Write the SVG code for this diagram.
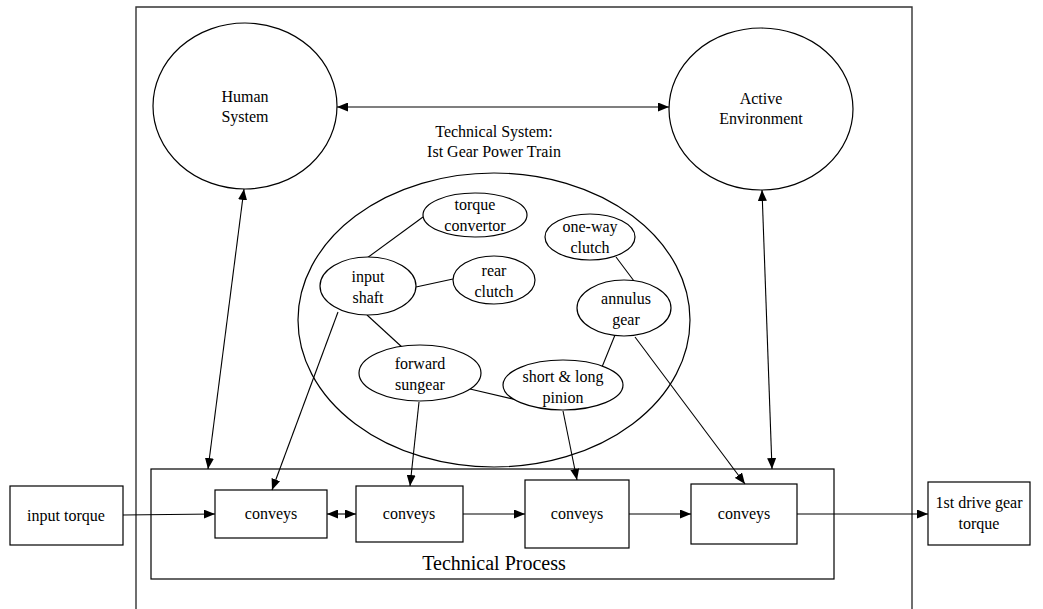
<svg xmlns="http://www.w3.org/2000/svg" width="1043" height="609" viewBox="0 0 1043 609" font-family="'Liberation Serif', 'Times New Roman', Times, serif">
  <style>
    .shape { fill: #fff; stroke: #000; stroke-width: 1.2; }
    .frame { fill: none; stroke: #333; stroke-width: 1.4; }
    .link { fill: none; stroke: #000; stroke-width: 1.1; }
    .arrow { fill: none; stroke: #000; stroke-width: 1.1; marker-end: url(#head); }
    .both { fill: none; stroke: #000; stroke-width: 1.1; marker-start: url(#head); marker-end: url(#head); }
    text { font-family: 'Liberation Serif', 'Times New Roman', Times, serif; font-size: 16px; fill: #000; text-anchor: middle; }
    .big { font-size: 20px; }
  </style>
  <defs>
    <marker id="head" markerUnits="userSpaceOnUse" markerWidth="11" markerHeight="9" refX="11" refY="4.5" orient="auto-start-reverse">
      <path d="M0,0 L11,4.5 L0,9 z" fill="#000"/>
    </marker>
  </defs>

  <!-- outer boundary, open at the bottom -->
  <path class="frame" d="M136,609 L136,7 L912,7 L912,609"/>

  <!-- environment -->
  <g id="human-system">
    <ellipse class="shape" cx="245" cy="106" rx="92" ry="83"/>
    <text x="245" y="102">Human</text>
    <text x="245" y="122">System</text>
  </g>
  <g id="active-environment">
    <ellipse class="shape" cx="761" cy="109" rx="92" ry="81"/>
    <text x="761" y="104">Active</text>
    <text x="761" y="124">Environment</text>
  </g>

  <!-- technical system -->
  <g id="technical-system">
    <text x="494" y="137">Technical System:</text>
    <text x="494" y="157">Ist Gear Power Train</text>
    <ellipse class="shape" cx="494" cy="320" rx="196" ry="147"/>
  </g>

  <!-- links between the parts of the power train -->
  <g id="part-links">
    <line class="link" x1="367" y1="258" x2="423" y2="217"/>
    <line class="link" x1="416" y1="287" x2="453" y2="279"/>
    <line class="link" x1="367" y1="315" x2="403" y2="348"/>
    <line class="link" x1="616" y1="257" x2="634" y2="281"/>
    <line class="link" x1="615" y1="335" x2="602" y2="367"/>
    <line class="link" x1="470" y1="389" x2="517" y2="400"/>
  </g>

  <g id="torque-convertor">
    <ellipse class="shape" cx="475" cy="215" rx="52" ry="22"/>
    <text x="475" y="210">torque</text>
    <text x="475" y="231">convertor</text>
  </g>
  <g id="one-way-clutch">
    <ellipse class="shape" cx="590" cy="237" rx="45" ry="23"/>
    <text x="590" y="232">one-way</text>
    <text x="590" y="253">clutch</text>
  </g>
  <g id="input-shaft">
    <ellipse class="shape" cx="368" cy="286" rx="48" ry="29"/>
    <text x="368" y="282">input</text>
    <text x="368" y="303">shaft</text>
  </g>
  <g id="rear-clutch">
    <ellipse class="shape" cx="494" cy="280" rx="41" ry="24"/>
    <text x="494" y="276">rear</text>
    <text x="494" y="297">clutch</text>
  </g>
  <g id="annulus-gear">
    <ellipse class="shape" cx="624" cy="308" rx="47" ry="28"/>
    <text x="626" y="304">annulus</text>
    <text x="626" y="325">gear</text>
  </g>
  <g id="forward-sungear">
    <ellipse class="shape" cx="420" cy="373" rx="61" ry="28"/>
    <text x="420" y="369">forward</text>
    <text x="420" y="390">sungear</text>
  </g>
  <g id="short-long-pinion">
    <ellipse class="shape" cx="563" cy="385" rx="60" ry="25"/>
    <text x="563" y="382">short &amp; long</text>
    <text x="563" y="403">pinion</text>
  </g>

  <!-- technical process -->
  <g id="technical-process">
    <rect class="shape" x="151" y="469" width="683" height="110"/>
    <text class="big" x="494" y="570">Technical Process</text>
  </g>
  <g id="conveys-1">
    <rect class="shape" x="215" y="490" width="112" height="48"/>
    <text x="271" y="519">conveys</text>
  </g>
  <g id="conveys-2">
    <rect class="shape" x="356" y="486" width="107" height="56"/>
    <text x="409" y="519">conveys</text>
  </g>
  <g id="conveys-3">
    <rect class="shape" x="525" y="480" width="104" height="68"/>
    <text x="577" y="519">conveys</text>
  </g>
  <g id="conveys-4">
    <rect class="shape" x="691" y="484" width="106" height="60"/>
    <text x="744" y="519">conveys</text>
  </g>

  <!-- operands -->
  <g id="input-torque">
    <rect class="shape" x="10" y="486" width="113" height="59"/>
    <text x="66" y="521">input torque</text>
  </g>
  <g id="drive-gear-torque">
    <rect class="shape" x="928" y="482" width="102" height="63"/>
    <text x="979" y="508">1st drive gear</text>
    <text x="979" y="529">torque</text>
  </g>

  <!-- connectors -->
  <g id="connectors">
    <line class="both" x1="337" y1="107" x2="669" y2="107"/>
    <line class="both" x1="244" y1="189" x2="208" y2="469"/>
    <line class="both" x1="762" y1="190" x2="772" y2="469"/>
    <line class="arrow" x1="338" y1="312" x2="272" y2="490"/>
    <line class="arrow" x1="419" y1="402" x2="410" y2="486"/>
    <line class="arrow" x1="563" y1="411" x2="577" y2="480"/>
    <line class="arrow" x1="635" y1="337" x2="745" y2="484"/>
    <line class="arrow" x1="123" y1="515" x2="215" y2="514"/>
    <line class="both" x1="327" y1="514" x2="356" y2="514"/>
    <line class="arrow" x1="463" y1="514" x2="525" y2="514"/>
    <line class="arrow" x1="629" y1="514" x2="691" y2="514"/>
    <line class="arrow" x1="797" y1="514" x2="928" y2="514"/>
  </g>
</svg>
